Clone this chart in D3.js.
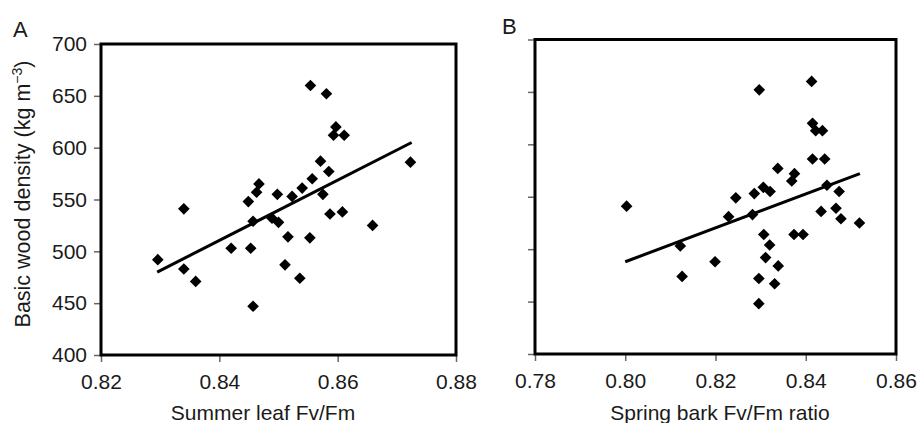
<!DOCTYPE html>
<html>
<head>
<meta charset="utf-8">
<script src="https://cdn.jsdelivr.net/npm/d3@7"></script>
<style>
  body { margin: 0; background: #fff; }
  svg text { font-family: "Liberation Sans", Arial, sans-serif; fill: #1a1a1a; }
</style>
</head>
<body>
<svg id="chart"></svg>
<script>
// tick values
const yTicks = [400, 450, 500, 550, 600, 650, 700];
const xTicksA = [0.82, 0.84, 0.86, 0.88];
const xTicksB = [0.78, 0.80, 0.82, 0.84, 0.86];

// panel A: summer leaf Fv/Fm vs density
const summerLeafFvFm = [0.8296, 0.834, 0.834, 0.836, 0.842, 0.8453, 0.8449, 0.8457, 0.8463, 0.8467,
  0.8457, 0.8498, 0.8489, 0.85, 0.8516, 0.8511, 0.8536, 0.8553, 0.8523, 0.854,
  0.8575, 0.8587, 0.8608, 0.8659, 0.8554, 0.8581, 0.8597, 0.8593, 0.8611, 0.8723,
  0.8571, 0.8585, 0.8557];
const densityA = [492, 541, 483, 471, 503, 503, 548, 529, 557, 565,
  447, 555, 532, 528, 514, 487, 474, 513, 553, 561,
  555, 536, 538, 525, 660, 652, 620, 612, 612, 586,
  587, 577, 570];
const trendAX = [0.8295, 0.8725];
const trendAY = [480, 605];

// panel B: spring bark Fv/Fm ratio vs density
const springBarkFvFm = [0.8003, 0.8122, 0.8126, 0.8199, 0.8229, 0.8245, 0.8282, 0.8286, 0.8306, 0.8321,
  0.8297, 0.8307, 0.832, 0.8311, 0.8339, 0.8296, 0.8331, 0.8296, 0.8338, 0.8375,
  0.8369, 0.8374, 0.8394, 0.8413, 0.8415, 0.8422, 0.8437, 0.8415, 0.8442, 0.8447,
  0.8474, 0.8434, 0.8467, 0.8478, 0.8519];
const densityB = [541, 503, 474, 488, 531, 549, 533, 553, 559, 555,
  652, 514, 504, 492, 484, 472, 467, 448, 577, 572,
  565, 514, 514, 660, 620, 613, 613, 586, 586, 561,
  555, 536, 539, 529, 525];
const trendBX = [0.80, 0.852];
const trendBY = [488, 572];

const W = 917, H = 423;
const svg = d3.select('#chart').attr('width', W).attr('height', H);

const diamond = d3.symbol().type(d3.symbolSquare).size(68);

function panel(opts) {
  const x = d3.scaleLinear().domain(opts.xDomain).range([opts.left, opts.right]);
  const y = d3.scaleLinear().domain([400, 700]).range([opts.bottom, opts.top]);
  const g = svg.append('g');

  // bottom axis
  const xAxis = g.append('g')
    .attr('transform', `translate(0,${opts.bottom})`)
    .call(d3.axisBottom(x).tickValues(opts.xTicks).tickSize(7).tickPadding(12)
      .tickFormat(d3.format('.2f')));
  xAxis.select('.domain').remove();
  xAxis.selectAll('line').attr('stroke', '#666').attr('stroke-width', 1.5);
  xAxis.selectAll('text').attr('font-size', 21).attr('fill', '#1a1a1a');

  // left axis
  const yAxis = g.append('g')
    .attr('transform', `translate(${opts.left},0)`)
    .call(d3.axisLeft(y).tickValues(yTicks).tickSize(7).tickPadding(7));
  yAxis.select('.domain').remove();
  yAxis.selectAll('line').attr('stroke', '#666').attr('stroke-width', 1.5);
  yAxis.selectAll('text').attr('font-size', 21).attr('fill', '#1a1a1a');
  if (!opts.yLabels) yAxis.selectAll('text').remove();

  // frame
  g.append('rect')
    .attr('x', opts.left).attr('y', opts.top)
    .attr('width', opts.right - opts.left).attr('height', opts.bottom - opts.top)
    .attr('fill', 'none').attr('stroke', '#000').attr('stroke-width', 3);

  // points
  g.selectAll('path.pt')
    .data(opts.xs.map((v, i) => [v, opts.ys[i]]))
    .enter()
    .append('path')
    .attr('class', 'pt')
    .attr('d', diamond)
    .attr('transform', d => `translate(${x(d[0])},${y(d[1])}) rotate(45)`)
    .attr('fill', '#000');

  // trend line
  g.append('path')
    .datum(opts.tx.map((v, i) => [v, opts.ty[i]]))
    .attr('d', d3.line().x(d => x(d[0])).y(d => y(d[1])))
    .attr('stroke', '#000').attr('stroke-width', 3).attr('fill', 'none');

  // x title
  g.append('text')
    .attr('x', opts.titleX).attr('y', 420)
    .attr('text-anchor', 'middle').attr('font-size', 21)
    .text(opts.xTitle);

  // panel letter
  g.append('text')
    .attr('x', opts.letterX).attr('y', opts.letterY)
    .attr('font-size', 22)
    .text(opts.letter);
}

panel({
  left: 101, right: 456, top: 44, bottom: 355,
  xDomain: [0.82, 0.88], xTicks: xTicksA, yLabels: true,
  xs: summerLeafFvFm, ys: densityA, tx: trendAX, ty: trendAY,
  xTitle: 'Summer leaf Fv/Fm', titleX: 263,
  letter: 'A', letterX: 13, letterY: 37
});

panel({
  left: 535, right: 896, top: 39.5, bottom: 354,
  xDomain: [0.78, 0.86], xTicks: xTicksB, yLabels: false,
  xs: springBarkFvFm, ys: densityB, tx: trendBX, ty: trendBY,
  xTitle: 'Spring bark Fv/Fm ratio', titleX: 720,
  letter: 'B', letterX: 502, letterY: 34
});

// y axis title
const yt = svg.append('text')
  .attr('transform', 'translate(30,194) rotate(-90)')
  .attr('text-anchor', 'middle').attr('font-size', 21.5);
yt.append('tspan').text('Basic wood density (kg m');
yt.append('tspan').attr('dy', -8).attr('font-size', 14).text('\u22123');
yt.append('tspan').attr('dy', 8).text(')');
</script>
</body>
</html>
